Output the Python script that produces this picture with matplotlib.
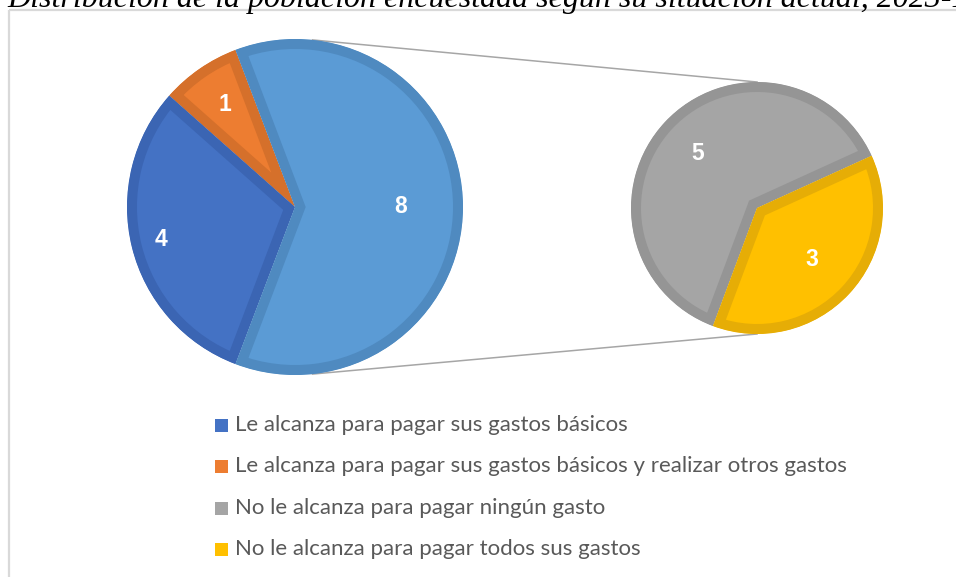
import numpy as np
import matplotlib
matplotlib.use("Agg")
import matplotlib.pyplot as plt
from matplotlib.patches import Rectangle

# ---------------- data ----------------
title = "Distribución de la población encuestada según su situación actual, 2023-1"
categories = [
    "Le alcanza para pagar sus gastos básicos",
    "Le alcanza para pagar sus gastos básicos y realizar otros gastos",
    "No le alcanza para pagar ningún gasto",
    "No le alcanza para pagar todos sus gastos",
]
values = [4, 1, 5, 3]
fill_colors = ["#4472C4", "#ED7D31", "#A5A5A5", "#FFC000"]
edge_colors = ["#3B65B3", "#D5702B", "#959595", "#E6AD06"]
other_fill = "#5B9BD5"
other_edge = "#4F8AC0"

W, H = 956, 577
fig = plt.figure(figsize=(W / 100, H / 100), dpi=100)
ax = fig.add_axes([0, 0, 1, 1])

def Y(y):
    return H - y

LABEL_FONT = ["Liberation Sans", "DejaVu Sans"]
LABEL_SIZE = 16.5

# ---------------- main pie ----------------
main_center = (295, Y(207))
main_r = 168
other_val = values[2] + values[3]
total = sum(values)
main_vals = [values[1], values[0], other_val]
main_fills = [fill_colors[1], fill_colors[0], other_fill]
main_edges = [edge_colors[1], edge_colors[0], other_edge]
start_main = 180.0 * other_val / total

wedges_main, _ = ax.pie(main_vals, colors=main_fills, startangle=start_main,
                        counterclock=True, center=main_center, radius=main_r,
                        wedgeprops=dict(linewidth=14.4))
for w, ec in zip(wedges_main, main_edges):
    w.set_edgecolor(ec)
    w.set_clip_on(True)
    w.set_clip_path(w)

main_fracs = [0.74, 0.82, 0.63]
for w, v, f in zip(wedges_main, main_vals, main_fracs):
    mid = np.deg2rad((w.theta1 + w.theta2) / 2)
    ax.text(main_center[0] + f * main_r * np.cos(mid),
            main_center[1] + f * main_r * np.sin(mid),
            str(v), color="white", fontsize=LABEL_SIZE, fontweight="bold",
            family=LABEL_FONT, ha="center", va="center")

# ---------------- secondary pie ----------------
sec_center = (757, Y(208))
sec_r = 126
sec_vals = [values[2], values[3]]
wedges_sec, _ = ax.pie(sec_vals, colors=[fill_colors[2], fill_colors[3]],
                       startangle=24.5, counterclock=True, center=sec_center,
                       radius=sec_r, wedgeprops=dict(linewidth=14.4))
for w, ec in zip(wedges_sec, [edge_colors[2], edge_colors[3]]):
    w.set_edgecolor(ec)
    w.set_clip_on(True)
    w.set_clip_path(w)

sec_fracs = [0.64, 0.60]
for w, v, f in zip(wedges_sec, sec_vals, sec_fracs):
    mid = np.deg2rad((w.theta1 + w.theta2) / 2)
    ax.text(sec_center[0] + f * sec_r * np.cos(mid),
            sec_center[1] + f * sec_r * np.sin(mid),
            str(v), color="white", fontsize=LABEL_SIZE, fontweight="bold",
            family=LABEL_FONT, ha="center", va="center")

# ---------------- connector lines ----------------
for sgn in (1, -1):
    a = np.deg2rad(84 * sgn)
    x1 = main_center[0] + main_r * np.cos(a)
    y1 = main_center[1] + main_r * np.sin(a)
    x2 = sec_center[0]
    y2 = sec_center[1] + sgn * sec_r
    ax.plot([x1, x2], [y1, y2], color="#A6A6A6", lw=1.1, zorder=0)

# ---------------- legend ----------------
leg_rows = [425, 466, 508, 549]
for lab, col, ry in zip(categories, fill_colors, leg_rows):
    ax.add_patch(Rectangle((215, Y(ry) - 6.5), 13, 13, color=col, lw=0))
    ax.text(235, Y(ry), lab, color="#595959", fontsize=16, family="Lato",
            ha="left", va="center")

# ---------------- chart-area border ----------------
ax.plot([9.5, 9.5], [-10, Y(10)], color="#D9D9D9", lw=1.6, solid_capstyle="butt")
ax.plot([9.5, W + 10], [Y(10), Y(10)], color="#D9D9D9", lw=1.6, solid_capstyle="butt")

ax.set_xlim(0, W)
ax.set_ylim(0, H)
ax.set_aspect("equal")
ax.axis("off")

# ---------------- title (cut off at top) ----------------
fig.text(7 / W, 1 - 7.5 / H, title, fontsize=23, family="Liberation Serif",
         style="italic", ha="left", va="baseline", color="black")

fig.savefig("out.png", dpi=100, facecolor="white")
